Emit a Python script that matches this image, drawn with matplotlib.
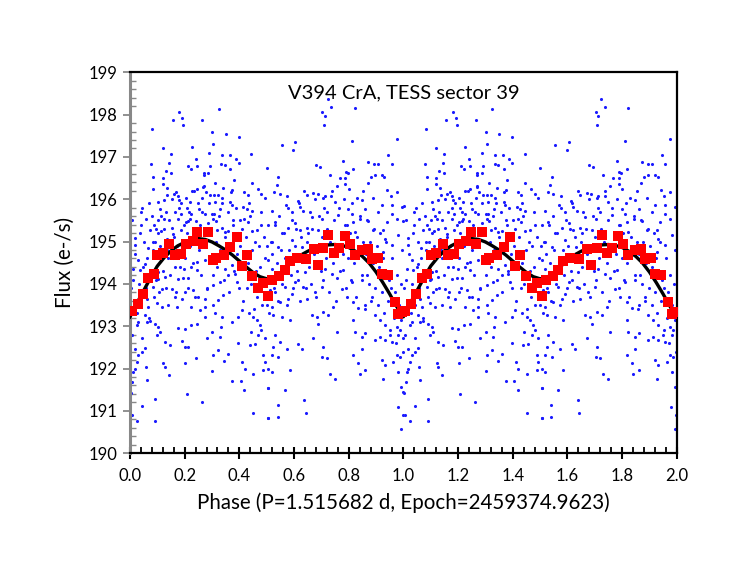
import numpy as np
import matplotlib
matplotlib.use("Agg")
import matplotlib.pyplot as plt
from matplotlib.ticker import MultipleLocator

# ---- data (one phase cycle, plotted twice) ----
# blue raw points: phase, flux
pts = [
(0.180,198.06),(0.325,198.12),(0.191,197.91),(0.157,197.87),(0.195,197.75),(0.264,197.86),(0.082,197.67),
(0.301,197.59),(0.350,197.55),(0.399,197.48),(0.227,197.24),(0.305,197.30),(0.119,197.20),(0.150,197.06),
(0.289,197.10),(0.240,196.96),(0.336,197.04),(0.366,197.04),(0.388,196.94),(0.444,197.08),(0.078,196.83),
(0.144,196.86),(0.211,196.78),(0.244,196.79),(0.292,196.79),(0.334,196.83),(0.347,196.82),(0.399,196.85),
(0.130,196.66),(0.150,196.62),(0.222,196.72),(0.271,196.61),(0.286,196.63),(0.367,196.71),(0.085,196.52),
(0.119,196.49),(0.269,196.58),(0.312,196.39),(0.379,196.45),(0.001,195.83),(0.045,195.80),(0.040,195.70),
(0.069,195.90),(0.104,195.94),(0.085,196.25),(0.121,196.36),(0.135,196.26),(0.161,196.13),(0.169,196.16),
(0.177,196.07),(0.180,195.98),(0.136,196.11),(0.125,195.98),(0.235,196.20),(0.244,196.24),(0.271,196.31),
(0.277,196.17),(0.291,196.09),(0.264,196.02),(0.205,196.02),(0.219,195.94),(0.311,195.94),(0.335,196.02),
(0.321,196.09),(0.368,196.17),(0.374,196.21),(0.342,196.27),(0.418,196.17),(0.430,196.09),(0.467,196.25),
(0.481,196.13),(0.445,196.39),(0.435,195.90),(0.414,195.82),(0.445,195.72),(0.427,195.76),
(0.479,195.70),(0.367,195.94),(0.372,195.86),(0.330,195.78),(0.301,195.66),(0.308,195.64),(0.274,195.65),
(0.252,195.78),(0.225,195.65),(0.207,195.80),(0.185,195.66),(0.177,195.54),(0.165,195.70),(0.130,195.70),
(0.124,195.54),(0.108,195.78),(0.101,195.50),(0.087,195.39),(0.057,195.53),(0.039,195.39),(0.073,195.27),
(0.018,195.09),(0.009,195.50),(0.095,195.29),(0.113,195.25),(0.152,195.32),(0.158,195.17),(0.205,195.46),
(0.213,195.49),(0.219,195.53),(0.241,195.48),(0.305,195.54),(0.313,195.48),(0.286,195.43),(0.319,195.27),
(0.335,195.31),(0.347,195.23),(0.378,195.39),(0.402,195.50),(0.418,195.53),(0.430,195.46),(0.445,195.25),
(0.463,195.27),(0.481,195.39),(0.396,195.20),(0.360,195.25),(0.186,195.27),(0.134,195.07),
(0.018,194.91),(0.065,194.85),(0.084,194.99),
(0.030,194.56),(0.012,194.36),(0.037,194.32),(0.055,194.48),(0.140,194.60),(0.165,194.40),(0.199,194.36),
(0.225,194.40),(0.244,194.52),(0.274,194.56),(0.244,194.32),(0.213,194.13),(0.195,194.13),(0.177,194.11),
(0.128,194.17),(0.104,194.28),(0.101,194.11),(0.085,193.93),(0.118,193.89),(0.152,193.89),(0.165,193.69),
(0.189,193.65),(0.203,193.81),(0.232,193.85),(0.250,193.69),(0.274,193.65),(0.280,193.89),(0.305,193.97),
(0.329,194.05),(0.347,194.36),(0.360,194.21),(0.372,194.44),(0.384,194.24),(0.390,194.05),(0.341,193.73),
(0.323,193.61),(0.305,193.50),(0.274,193.46),(0.256,193.38),(0.225,193.46),(0.171,193.46),(0.140,193.50),
(0.116,193.46),(0.098,193.54),(0.061,193.65),(0.067,193.46),(0.055,193.26),(0.030,193.10),(0.024,193.02),
(0.061,193.10),(0.073,193.12),(0.091,193.06),(0.104,192.98),(0.098,192.79),(0.110,192.87),(0.006,192.79),
(0.043,192.71),(0.018,192.47),(0.055,192.49),(0.043,192.39),(0.030,192.32),(0.024,192.16),(0.128,192.63),
(0.146,192.55),(0.189,192.65),(0.201,192.51),(0.213,192.51),(0.177,192.96),(0.201,192.93),(0.223,193.02),
(0.244,193.04),(0.274,193.22),(0.311,193.30),(0.335,193.22),(0.280,192.71),(0.301,192.87),(0.329,192.75),
(0.333,192.98),(0.372,193.10),(0.396,193.22),(0.408,193.38),(0.435,193.32),(0.451,193.22),(0.463,193.14),
(0.475,193.02),(0.442,192.87),(0.469,192.79),(0.481,192.91),(0.439,192.55),(0.457,192.57),(0.494,192.72),
(0.488,192.32),(0.396,192.61),(0.360,192.35),(0.345,192.17),(0.411,192.16),(0.420,192.00),(0.494,192.16),
(0.488,191.96),(0.451,191.88),(0.305,192.32),(0.323,192.43),(0.203,192.12),(0.240,192.24),(0.122,192.12),
(0.128,192.04),(0.018,192.00),(0.012,191.92),(0.057,192.04),(0.143,191.84),(0.061,191.73),(0.301,191.94),
(0.374,191.70),(0.406,191.70),(0.418,191.49),(0.506,191.53),(0.004,191.43),(0.207,191.39),(0.091,191.28),
(0.262,191.20),(0.043,191.12),(0.006,190.90),(0.026,190.77),(0.091,190.77),(0.451,190.94),(0.506,190.83),
(0.009,191.68),
(0.723,198.36),(0.737,198.17),(0.823,198.16),(0.703,198.06),(0.713,197.97),(0.708,197.75),(0.555,197.28),
(0.604,197.35),(0.598,197.16),(0.811,197.37),(0.975,197.42),(0.945,197.04),(0.957,196.84),(0.780,196.90),
(0.679,196.80),(0.695,196.76),(0.871,196.87),(0.893,196.84),(0.908,196.84),(0.500,196.74),(0.543,196.53),
(0.537,196.33),(0.528,196.16),(0.731,196.58),(0.790,196.65),(0.796,196.61),(0.787,196.49),(0.768,196.49),
(0.817,196.72),(0.881,196.53),(0.896,196.57),(0.920,196.57),(0.930,196.53),(0.756,196.31),(0.787,196.37),
(0.801,196.25),(0.853,196.19),(0.869,196.39),(0.941,196.21),(0.954,196.08),(0.975,196.17),(0.494,196.03),
(0.548,196.13),(0.576,196.07),(0.613,195.95),(0.646,196.09),(0.670,196.15),(0.686,196.13),(0.707,196.02),
(0.713,196.07),(0.737,196.08),(0.750,195.94),(0.829,196.02),(0.847,195.98),(0.890,196.03),(0.920,195.86),
(0.957,195.87),(0.994,195.82),(0.518,195.72),(0.591,195.70),(0.570,195.87),(0.622,195.82),(0.634,195.72),
(0.664,195.58),(0.703,195.54),(0.719,195.70),(0.762,195.62),(0.799,195.78),(0.811,195.66),(0.860,195.78),
(0.842,195.54),(0.872,195.48),(0.908,195.70),(0.939,195.46),(0.957,195.66),(0.975,195.54),(0.999,195.48),
(0.506,195.39),(0.530,195.46),(0.555,195.19),(0.579,195.31),(0.604,195.43),(0.622,195.27),(0.646,195.32),
(0.652,195.19),(0.689,195.27),(0.787,195.39),(0.817,195.46),(0.823,195.23),(0.890,195.27),(0.926,195.27),
(0.932,195.07),(0.981,195.15),(0.518,194.99),(0.543,194.87),(0.591,195.03),(0.630,194.87),(0.957,194.91),
(0.994,194.80),(0.926,194.76),
(0.506,194.56),(0.518,194.36),(0.500,194.09),(0.512,193.85),(0.500,193.50),(0.518,193.46),(0.555,193.22),
(0.585,193.14),(0.549,193.58),(0.579,193.65),(0.591,193.77),(0.604,194.05),(0.616,194.09),(0.634,193.93),
(0.646,193.65),(0.664,193.26),(0.683,193.22),(0.689,193.06),(0.707,193.34),(0.725,193.26),(0.744,193.46),
(0.756,192.87),(0.774,193.89),(0.792,193.69),(0.817,193.58),(0.835,193.42),(0.860,193.50),(0.884,193.69),
(0.896,193.26),(0.914,193.14),(0.932,193.02),(0.950,192.79),(0.975,192.98),(0.993,193.14),
(0.817,193.14),(0.823,192.87),(0.847,192.75),(0.860,192.85),(0.896,192.67),(0.914,192.75),(0.932,192.67),
(0.957,192.63),(0.981,192.79),(0.999,192.71),(0.524,193.26),(0.530,192.79),(0.549,192.63),(0.524,192.51),
(0.518,192.32),(0.543,192.28),(0.573,192.47),(0.616,192.59),(0.628,192.47),(0.671,192.71),(0.707,192.51),
(0.703,192.28),(0.719,192.24),(0.817,192.32),(0.847,192.47),(0.835,192.12),(0.860,191.96),(0.841,191.88),
(0.920,192.20),(0.932,192.08),(0.963,192.16),(0.975,192.32),(0.987,192.28),(0.506,192.00),
(0.518,191.92),(0.585,191.96),(0.731,191.88),(0.750,191.75),(0.927,191.76),(0.981,191.92),(0.993,191.57),
(0.999,191.45),(0.506,191.53),(0.567,191.49),(0.638,191.25),(0.540,191.13),(0.643,190.94),
(0.540,190.86),(0.506,190.83),(0.979,191.09),(0.998,190.90),(0.993,190.57),(0.530,193.81),(0.567,193.93),
(0.677,193.81),(0.701,193.93),(0.738,194.24),(0.756,194.13),(0.811,194.05),(0.847,194.09),(0.866,194.20),
(0.780,194.32),(0.640,194.28),(0.713,194.36),
# dense band around the light curve
(0.004,193.9),(0.010,194.1),(0.014,193.6),(0.020,194.7),(0.027,193.3),(0.033,194.0),(0.036,195.2),
(0.042,193.5),(0.048,194.4),(0.052,195.0),(0.058,193.9),(0.063,194.6),(0.070,193.2),(0.075,194.3),
(0.079,195.6),(0.083,194.8),(0.089,193.7),(0.093,195.0),(0.097,194.1),
(0.103,195.2),(0.107,193.8),(0.111,194.9),(0.115,195.6),(0.120,194.3),(0.126,195.3),(0.131,193.9),
(0.137,194.8),(0.142,195.5),(0.147,194.2),(0.153,196.0),(0.156,194.6),(0.161,195.1),(0.167,193.8),
(0.172,194.9),(0.178,195.8),(0.183,194.4),(0.188,195.9),(0.193,194.8),(0.197,195.4),
(0.202,194.6),(0.208,195.2),(0.212,193.9),(0.216,195.7),(0.221,194.9),(0.227,196.2),(0.231,194.5),
(0.236,195.3),(0.239,193.7),(0.247,195.9),(0.251,194.8),(0.256,195.4),(0.259,194.2),(0.263,195.7),
(0.268,196.3),(0.272,194.9),(0.277,195.2),(0.282,193.9),(0.288,195.9),(0.293,194.6),(0.298,195.3),
(0.303,194.2),(0.307,196.1),(0.316,195.0),(0.320,194.4),(0.326,195.6),(0.331,194.8),(0.338,195.9),
(0.343,194.1),(0.348,195.1),(0.353,194.6),(0.357,195.7),(0.362,193.8),(0.369,194.9),(0.375,195.5),
(0.381,194.3),(0.386,195.8),(0.392,194.7),(0.398,193.9),
(0.404,194.9),(0.409,195.3),(0.413,193.6),(0.419,194.6),(0.424,195.1),(0.429,193.9),(0.433,194.5),
(0.438,195.6),(0.443,194.0),(0.448,194.8),(0.453,193.4),(0.458,195.0),(0.462,194.3),(0.466,193.7),
(0.472,194.9),(0.477,194.4),(0.483,193.5),(0.489,195.1),(0.495,194.6),
(0.503,194.9),(0.509,193.3),(0.514,195.0),(0.521,194.7),(0.526,193.9),(0.532,195.4),(0.536,194.5),
(0.541,193.6),(0.546,195.6),(0.551,194.8),(0.557,194.0),(0.562,195.2),(0.568,194.6),(0.574,193.5),
(0.578,195.8),(0.583,194.8),(0.589,194.2),(0.594,195.5),(0.598,193.9),
(0.603,194.9),(0.608,195.3),(0.612,194.3),(0.618,195.9),(0.621,193.6),(0.627,195.1),(0.632,194.6),
(0.637,196.2),(0.642,193.9),(0.648,195.0),(0.653,194.4),(0.658,195.7),(0.662,194.0),(0.667,195.3),
(0.672,194.7),(0.678,196.0),(0.682,193.7),(0.687,194.9),(0.693,195.6),(0.698,194.3),
(0.702,195.1),(0.706,194.1),(0.711,195.8),(0.716,194.6),(0.721,195.3),(0.727,193.8),(0.733,195.0),
(0.739,196.2),(0.743,194.5),(0.748,195.5),(0.752,193.6),(0.758,194.9),(0.763,195.8),(0.769,194.3),
(0.773,195.2),(0.778,194.7),(0.783,196.0),(0.789,193.9),(0.794,195.4),(0.798,194.6),
(0.803,195.2),(0.808,194.1),(0.813,195.9),(0.819,194.5),(0.826,193.7),(0.831,195.1),(0.837,194.8),
(0.843,195.6),(0.849,194.2),(0.854,195.0),(0.858,193.4),(0.863,194.7),(0.868,195.5),(0.873,194.0),
(0.878,195.0),(0.883,193.6),(0.888,194.5),(0.893,195.3),(0.898,193.9),
(0.903,194.9),(0.908,193.5),(0.911,194.4),(0.916,195.2),(0.921,193.8),(0.925,194.6),(0.929,193.3),
(0.934,194.3),(0.938,195.0),(0.943,193.6),(0.947,194.1),(0.952,192.9),(0.955,193.9),(0.960,194.6),
(0.964,193.2),(0.968,193.8),(0.972,192.6),(0.977,194.2),(0.983,193.5),(0.986,192.9),(0.990,194.0),
(0.995,193.3),(0.998,192.4),
]
raw_phase = [p for p, f in pts]
raw_flux = [f for p, f in pts]

# binned means (red squares)
bin_phase = [0.006,0.028,0.046,0.067,0.088,0.100,0.119,0.144,0.164,0.186,0.205,0.229,0.246,0.267,0.287,
             0.302,0.314,0.344,0.367,0.390,0.408,0.427,0.447,0.469,0.487,0.506,0.520,0.546,0.567,0.585,
             0.610,0.643,0.673,0.688,0.707,0.725,0.746,0.764,0.786,0.805,0.823,0.847,0.869,0.884,0.906,
             0.920,0.944,0.969,0.981,0.994]
bin_flux = [193.35,193.52,193.77,194.15,194.24,194.69,194.72,194.94,194.68,194.70,194.94,195.01,195.23,194.94,195.23,
            194.56,194.60,194.68,194.87,195.11,194.42,194.68,194.19,193.91,194.03,193.72,194.09,194.19,194.32,194.54,
            194.62,194.58,194.83,194.44,194.85,195.15,194.72,194.85,195.13,194.95,194.68,194.80,194.83,194.58,194.62,
            194.23,194.20,193.57,193.28,193.33]

# model fit curve
fit_phase = [0.0,0.02,0.04,0.06,0.08,0.10,0.125,0.15,0.175,0.20,0.225,0.25,0.275,0.30,0.325,0.35,0.375,
             0.40,0.425,0.45,0.475,0.50,0.525,0.55,0.575,0.60,0.625,0.65,0.675,0.70,0.725,0.75,0.775,
             0.80,0.825,0.85,0.875,0.90,0.925,0.95,0.975,1.0]
fit_flux = [193.22,193.48,193.72,193.96,194.20,194.42,194.62,194.78,194.90,194.98,195.04,195.07,195.05,194.99,
            194.90,194.80,194.68,194.54,194.40,194.27,194.17,194.12,194.15,194.26,194.41,194.56,194.68,194.77,
            194.84,194.89,194.92,194.93,194.91,194.86,194.77,194.65,194.49,194.28,194.03,193.76,193.47,193.22]

title = "V394 CrA, TESS sector 39"
xlabel = "Phase (P=1.515682 d, Epoch=2459374.9623)"
ylabel = "Flux (e-/s)"

plt.rcParams['font.family'] = ['Lato', 'DejaVu Sans']

fig = plt.figure(figsize=(7.47, 5.78), dpi=100)
ax = fig.add_axes([0.174, 0.216, 0.732, 0.659])

rp = np.array(raw_phase); rf = np.array(raw_flux)
ax.scatter(np.concatenate([rp, rp + 1]), np.concatenate([rf, rf]), s=5, color='#1a1aff',
           linewidths=0, zorder=2)
fp = np.array(fit_phase); ff = np.array(fit_flux)
ax.plot(np.concatenate([fp, fp[1:] + 1]), np.concatenate([ff, ff[1:]]), color='black', lw=2.4,
        zorder=3, solid_joinstyle='round')
bp = np.array(bin_phase); bf = np.array(bin_flux)
ax.scatter(np.concatenate([bp, bp + 1]), np.concatenate([bf, bf]), marker='s', s=62,
           color='#ff0000', linewidths=0, zorder=4)

ax.set_xlim(0, 2)
ax.set_ylim(190, 199)
ax.xaxis.set_major_locator(MultipleLocator(0.2))
ax.xaxis.set_minor_locator(MultipleLocator(0.04))
ax.yaxis.set_major_locator(MultipleLocator(1))
ax.yaxis.set_minor_locator(MultipleLocator(0.2))
ax.xaxis.set_major_formatter(matplotlib.ticker.FormatStrFormatter('%.1f'))
ax.yaxis.set_major_formatter(matplotlib.ticker.FormatStrFormatter('%d'))

ax.tick_params(axis='x', which='major', direction='inout', length=9, width=1.5, colors='black',
               labelsize=12, pad=6)
ax.tick_params(axis='x', which='minor', direction='in', length=4, width=1.3, colors='black')
ax.tick_params(axis='y', which='major', direction='out', length=5, width=1.3, color='#888888',
               labelcolor='black', labelsize=12, pad=4)
ax.tick_params(axis='y', which='minor', direction='in', length=4, width=1.0, color='#888888')

for s in ['top', 'right', 'bottom']:
    ax.spines[s].set_color('black')
    ax.spines[s].set_linewidth(1.6)
ax.spines['left'].set_color('#888888')
ax.spines['left'].set_linewidth(2.2)

ax.set_xlabel(xlabel, fontsize=14.8, labelpad=6)
ax.set_ylabel(ylabel, fontsize=14.8, labelpad=10)
ax.text(0.5, 0.945, title, transform=ax.transAxes, ha='center', va='center', fontsize=14.5)

fig.savefig('out.png', dpi=100)
